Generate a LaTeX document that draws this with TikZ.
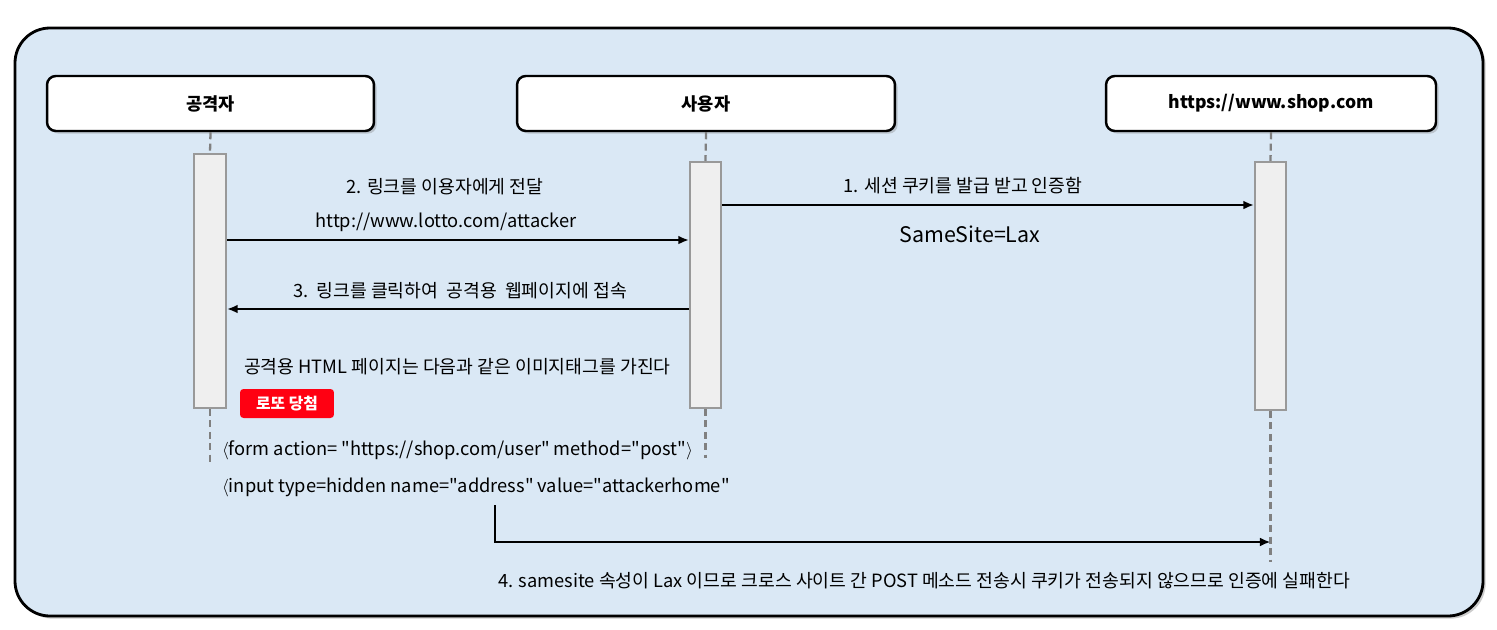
\documentclass[tikz,border=0pt]{standalone}
\usepackage{fontspec}
\setmainfont{Noto Sans CJK KR}
\usetikzlibrary{arrows.meta,shadows}

\definecolor{paneblue}{RGB}{218,232,245}
\definecolor{barfill}{RGB}{239,239,239}
\definecolor{lifegray}{RGB}{128,128,128}
\definecolor{btnred}{RGB}{255,0,18}

\newcommand{\qt}{\textquotedbl}

\begin{document}
\begin{tikzpicture}[x=0.02cm,y=-0.02cm,
  actor/.style={draw=black, line width=1.4pt, fill=white, rounded corners=5pt,
    minimum height=1.1cm, font=\bfseries\fontsize{10}{12}\selectfont,
    drop shadow={opacity=0.35, shadow xshift=1.5pt, shadow yshift=-1.5pt}},
  bar/.style={draw=lifegray!80, line width=1.2pt, fill=barfill, inner sep=0pt},
  life/.style={draw=lifegray, line width=1.3pt, dash pattern=on 4pt off 2.5pt},
  msg/.style={line width=1.2pt, -{Latex[length=6pt,width=5pt]}},
  lbl/.style={font=\fontsize{10.4}{12}\selectfont, inner sep=1pt}]

  \useasboundingbox (0,0) rectangle (1497,629);

  % Draw the outer panel
  \draw[line width=1.6pt, fill=paneblue, rounded corners=0.7cm,
    drop shadow={opacity=0.4, shadow xshift=1.5pt, shadow yshift=-1.5pt}]
    (15,28) rectangle (1483,616);

  % Actors
  \node[actor, minimum width=6.54cm] (atk) at (210.5,103.5) {공격자};
  \node[actor, minimum width=7.56cm] (usr) at (706,103.5) {사용자};
  \node[actor, minimum width=6.6cm] (shop) at (1271,103.5) {https://www.shop.com};

  % Activation bars
  \node[bar, minimum width=0.64cm, minimum height=5.08cm] (abar) at (210,281) {};
  \node[bar, minimum width=0.62cm, minimum height=4.92cm] (ubar) at (705.5,285) {};
  \node[bar, minimum width=0.62cm, minimum height=4.96cm] (sbar) at (1270.5,286) {};

  % Lifelines
  \coordinate (aend) at (210,465);
  \coordinate (uend) at (705.5,458);
  \coordinate (send) at (1270.5,562);
  \draw[life] (atk.south) -- (abar.north);
  \draw[life] (abar.south) -- (aend);
  \draw[life] (usr.south) -- (ubar.north);
  \draw[life] (ubar.south) -- (uend);
  \draw[life] (shop.south) -- (sbar.north);
  \draw[life] (sbar.south) -- (send);

  % Message 1: session cookie
  \draw[msg] (ubar.east |- 0,205) -- (sbar.west |- 0,205);
  \node[lbl] (m1) at (963,186) {1. 세션 쿠키를 발급 받고 인증함};
  \node[lbl, font=\fontsize{12.2}{14}\selectfont] (lax) at (970,234) {SameSite=Lax};

  % Message 2: link to user
  \draw[msg] (abar.east |- 0,240) -- (ubar.west |- 0,240);
  \node[lbl] (m2) at (445,187) {2. 링크를 이용자에게 전달};
  \node[lbl] (url) at (446,222) {http://www.lotto.com/attacker};

  % Message 3: user clicks
  \draw[msg] (ubar.west |- 0,309) -- (abar.east |- 0,309);
  \node[lbl] (m3) at (460,291) {3.\ \ 링크를 클릭하여\ \ 공격용\ \ 웹페이지에 접속};

  % Attack page contents
  \node[lbl, anchor=west] (html) at (242,367) {공격용 HTML 페이지는 다음과 같은 이미지태그를 가진다};
  \node[fill=btnred, rounded corners=2pt, minimum width=1.88cm, minimum height=0.58cm,
    text=white, font=\bfseries\fontsize{9}{11}\selectfont] (btn) at (287,403.5) {로또 당첨};
  \node[lbl, anchor=west] (form) at (220,450) {$\langle$form action= \qt https://shop.com/user\qt{} method=\qt post\qt$\rangle$};
  \node[lbl, anchor=west] (input) at (220,487) {$\langle$input type=hidden name=\qt address\qt{} value=\qt attackerhome\qt};

  % Message 4: forged post
  \coordinate (fstart) at (495,505);
  \coordinate (fhit) at (1270.5,542);
  \draw[msg] (fstart) |- (fhit);
  \node[lbl, anchor=west] (m4) at (496,581) {4. samesite 속성이 Lax 이므로 크로스 사이트 간 POST 메소드 전송시 쿠키가 전송되지 않으므로 인증에 실패한다};

\end{tikzpicture}
\end{document}
